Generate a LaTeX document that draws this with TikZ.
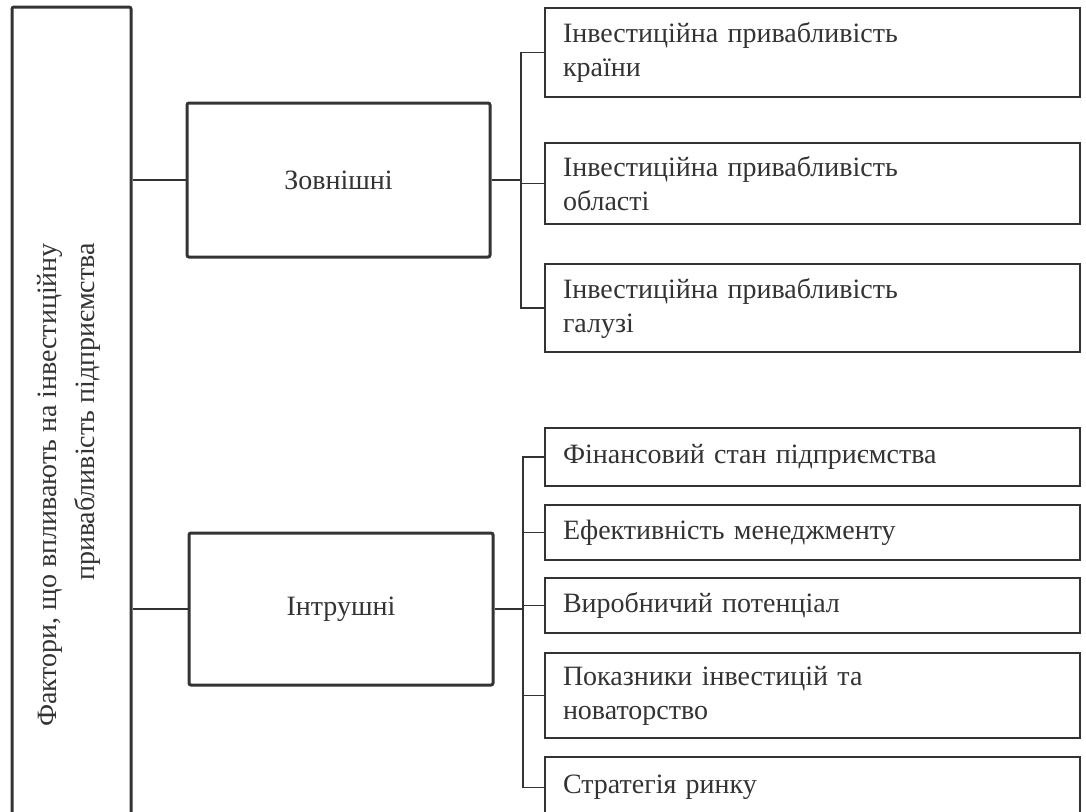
\documentclass[tikz,border=0pt]{standalone}
\usepackage{fontspec}
\setmainfont{Liberation Serif}
\definecolor{inkgray}{HTML}{333333}
\tikzset{
  mainbox/.style={draw=inkgray, line width=1.5pt, rounded corners=1pt, fill=white,
    text=inkgray, font={\fontsize{14}{17}\selectfont}},
  itembox/.style={draw=inkgray, line width=1pt, fill=white, text=inkgray,
    text width=249.5pt, inner xsep=9pt, align=left, font={\fontsize{14}{17}\selectfont}},
  link/.style={draw=inkgray, line width=0.75pt}
}
\begin{document}
\begin{tikzpicture}[x=0.5pt, y=-0.5pt]
    \path[use as bounding box, clip] (0,0) rectangle (1086,811);
    \fill[white] (0,0) rectangle (1086,811);

    % Фактори (left column)
    \node[mainbox, minimum width=59.5pt, minimum height=416.5pt, inner sep=0pt] (factors) at (71.5,423.5) {};
    \node[rotate=90, align=right, text=inkgray, font={\fontsize{14}{19}\selectfont}] (factorstext) at (69,485)
        {Фактори, що впливають на інвестиційну\\привабливість підприємства};

    % Зовнішні / Інтрушні
    \node[mainbox, minimum width=151.5pt, minimum height=77pt, inner sep=0pt] (zovn) at (338.5,180) {Зовнішні};
    \node[mainbox, minimum width=152pt, minimum height=76pt, inner sep=0pt] (intr) at (341,609) {Інтрушні};

    % external factors
    \node[itembox, minimum height=44.5pt] (ext1) at (812.5,52.5) {Інвестиційна привабливість\\країни};
    \node[itembox, minimum height=40.5pt] (ext2) at (812.5,183.5) {Інвестиційна привабливість\\області};
    \node[itembox, minimum height=44pt] (ext3) at (812.5,308) {Інвестиційна привабливість\\галузі};

    % internal factors
    \node[itembox, minimum height=29pt] (int1) at (812.5,457) {Фінансовий стан підприємства};
    \node[itembox, minimum height=27.5pt] (int2) at (812.5,532.5) {Ефективність менеджменту};
    \node[itembox, minimum height=27.5pt] (int3) at (812.5,605.5) {Виробничий потенціал};
    \node[itembox, minimum height=42.5pt] (int4) at (812.5,695.5) {Показники інвестицій та\\новаторство};
    \node[itembox, minimum height=30.5pt] (int5) at (812.5,787.5) {Стратегія ринку};

    \coordinate (topbus) at (521,0);
    \coordinate (lowbus) at (523,0);

    % connectors
    \draw[link] (zovn.west -| factors.east) -- (zovn.west);
    \draw[link] (intr.west -| factors.east) -- (intr.west);

    \draw[link] (ext1.west) -- (ext1.west -| topbus) -- (ext3.west -| topbus) -- (ext3.west);
    \draw[link] (ext2.west) -- (ext2.west -| topbus);
    \draw[link] (zovn.east) -- (zovn.east -| topbus);

    \draw[link] (int1.west) -- (int1.west -| lowbus) -- (int5.west -| lowbus) -- (int5.west);
    \foreach \n in {int2,int3,int4}
        \draw[link] (\n.west) -- (\n.west -| lowbus);
    \draw[link] (intr.east) -- (intr.east -| lowbus);
\end{tikzpicture}
\end{document}
